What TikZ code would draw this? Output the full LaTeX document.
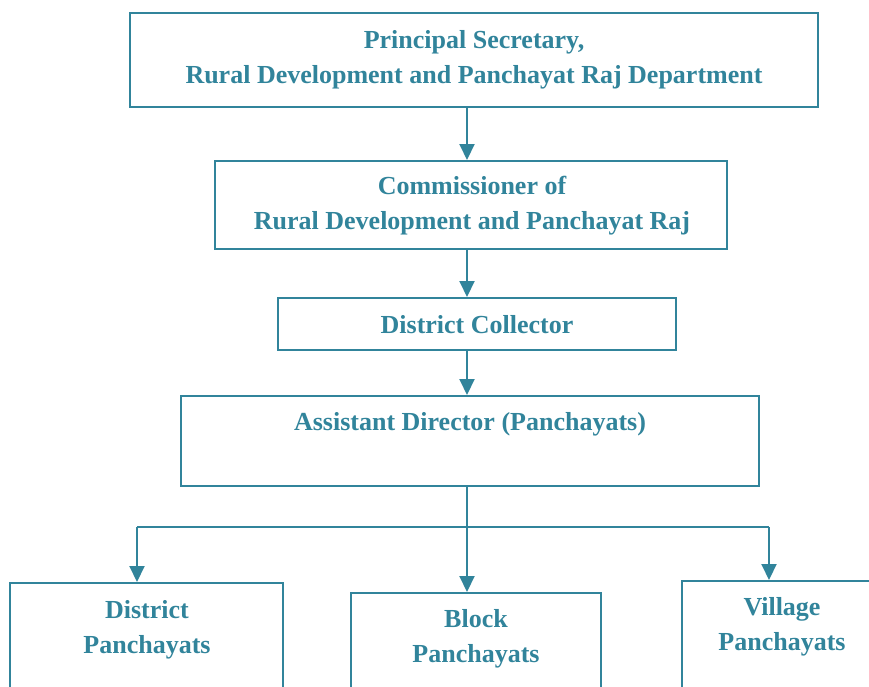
\documentclass[tikz,border=0pt]{standalone}
\usepackage{fontspec}
\setmainfont{Liberation Serif}
\usetikzlibrary{arrows.meta}
\definecolor{teal}{RGB}{49,132,155}
\begin{document}
\begin{tikzpicture}[x=1pt,y=-1pt,
  box/.style={draw=teal, line width=2pt, rectangle, inner sep=0pt, fill=white},
  lbl/.style={text=teal, font=\fontsize{26}{34.5}\selectfont\bfseries, align=center, inner sep=0pt, anchor=base},
  link/.style={draw=teal, line width=2pt},
  arr/.style={link, -{Triangle[length=16pt,width=15pt]}}]
\useasboundingbox (0,0) rectangle (869,686);
\clip (0,0) rectangle (869,686);

% hierarchy boxes
\node[box, minimum width=688pt, minimum height=94pt] (b1) at (474,60) {};
\node[box, minimum width=512pt, minimum height=88pt] (b2) at (471,205) {};
\node[box, minimum width=398pt, minimum height=52pt] (b3) at (477,324) {};
\node[box, minimum width=578pt, minimum height=90pt] (b4) at (470,441) {};
\node[box, minimum width=273pt, minimum height=160pt] (dp) at (146.5,663) {};
\node[box, minimum width=250pt, minimum height=160pt] (bp) at (476,673) {};
\node[box, minimum width=200pt, minimum height=160pt] (vp) at (782,661) {};

% labels (anchored on the baseline of the last line)
\node[lbl] (t1) at (474,83) {Principal Secretary,\\Rural Development and Panchayat Raj Department};
\node[lbl] (t2) at (472,229) {Commissioner of\\Rural Development and Panchayat Raj};
\node[lbl] (t3) at (477,333) {District Collector};
\node[lbl] (t4) at (470,430) {Assistant Director (Panchayats)};
\node[lbl] (t5) at (147,653) {District\\Panchayats};
\node[lbl] (t6) at (476,662) {Block\\Panchayats};
\node[lbl] (t7) at (782,650) {Village\\Panchayats};

% connectors
\coordinate (spine) at (467,0);
\coordinate (busL) at (137,527);
\coordinate (busR) at (769,527);
\draw[arr] (b1.south -| spine) -- (b2.north -| spine);
\draw[arr] (b2.south -| spine) -- (b3.north -| spine);
\draw[arr] (b3.south -| spine) -- (b4.north -| spine);
\draw[link] (busL) -- (busR);
\draw[arr] (busL) -- (busL |- dp.north);
\draw[arr] (busR) -- (busR |- vp.north);
\draw[arr] (b4.south -| spine) -- (bp.north -| spine);
\end{tikzpicture}
\end{document}
